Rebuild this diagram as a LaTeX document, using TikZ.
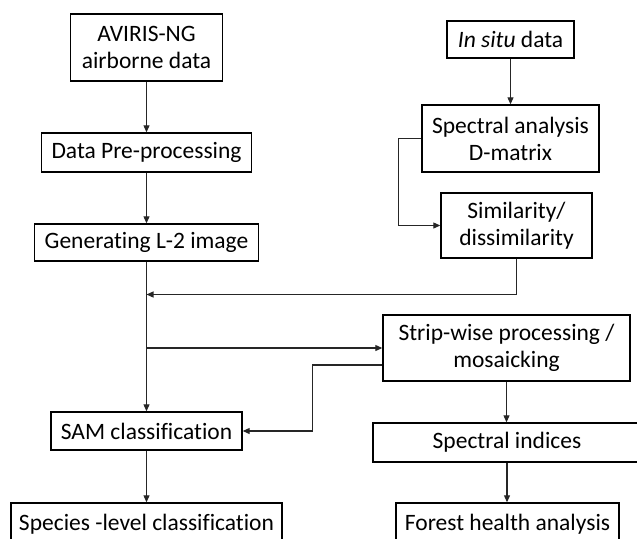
\documentclass[tikz,border=0pt]{standalone}
\usepackage{fontspec}
\setmainfont{Carlito}[Ligatures=NoCommon]
\usetikzlibrary{arrows.meta}
\begin{document}
\begin{tikzpicture}[x=1pt,y=-1pt,
 box/.style={draw=black, line width=1.4pt, inner sep=0pt, align=center, font=\fontsize{23.5}{27}\selectfont},
 conn/.style={line width=1.1pt, draw=black!85, -{Triangle[length=7pt,width=6pt]}}]
\useasboundingbox (0,0) rectangle (637,538);
\clip (0,0) rectangle (637,538);
\fill[white] (0,0) rectangle (637,538);
\node[box, minimum width=152pt, minimum height=67pt] (av) at (146.5,47.5) {AVIRIS-NG\\airborne data};
\node[box, minimum width=210pt, minimum height=39pt] (pre) at (146.5,152.5) {Data Pre-processing};
\node[box, minimum width=224pt, minimum height=37pt] (l2) at (146.5,242.5) {Generating L-2 image};
\node[box, minimum width=127pt, minimum height=37pt] (insitu) at (510.5,39.5) {\textit{In situ} data};
\node[box, minimum width=177pt, minimum height=67pt] (spec) at (510.5,138.5) {Spectral analysis\\D-matrix};
\node[box, minimum width=151pt, minimum height=65pt] (sim) at (516.5,225.5) {Similarity/\\dissimilarity};
\node[box, minimum width=247pt, minimum height=66pt] (strip) at (506.5,348) {Strip-wise processing /\\mosaicking};
\node[box, minimum width=191pt, minimum height=38pt] (sam) at (146.5,431) {SAM classification};
\node[box, minimum width=271pt, minimum height=42pt] (species) at (146.5,524) {Species -level classification};
\node[box, minimum width=268pt, minimum height=39pt] (indices) at (507,442.5) {Spectral indices};
\node[box, minimum width=223pt, minimum height=42pt] (forest) at (507.5,524) {Forest health analysis};
\coordinate (j1) at (146.5,294.5);
\coordinate (j2) at (146.5,348);
\draw[conn] (av) -- (pre);
\draw[conn] (pre) -- (l2);
\draw[conn] (insitu) -- (spec);
\draw[conn] (spec.west) -- ++(-23,0) |- (sim.west);
\draw[conn] (sim.south) |- (j1);
\draw[conn] (l2.south) -- (sam.north);
\draw[conn] (j2) -- (strip.west);
\draw[conn] (strip.west) ++(0,17) -- ++(-70,0) |- (sam.east);
\draw[conn] (strip.south) -- (strip.south |- indices.north);
\draw[conn] (indices.south) -- (indices.south |- forest.north);
\draw[conn] (sam.south) -- (species.north);
\end{tikzpicture}
\end{document}
